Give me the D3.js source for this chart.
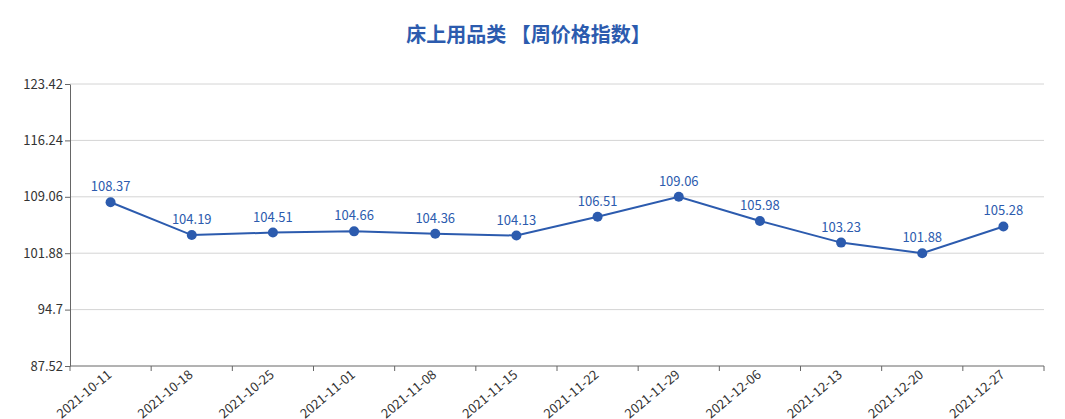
<!DOCTYPE html>
<html>
<head>
<meta charset="utf-8">
<script src="https://cdn.jsdelivr.net/npm/d3@7"></script>
<style>
  body { margin: 0; background: #fff; }
  text { font-family: "Noto Sans CJK SC", "Noto Sans", sans-serif; }
</style>
</head>
<body>
<div id="chart"></div>
<script>
// Daten
var title = "床上用品类 【周价格指数】";
var weeks = ["2021-10-11", "2021-10-18", "2021-10-25", "2021-11-01", "2021-11-08", "2021-11-15",
             "2021-11-22", "2021-11-29", "2021-12-06", "2021-12-13", "2021-12-20", "2021-12-27"];
var values = [108.37, 104.19, 104.51, 104.66, 104.36, 104.13, 106.51, 109.06, 105.98, 103.23, 101.88, 105.28];
var yTicks = [87.52, 94.7, 101.88, 109.06, 116.24, 123.42];

var width = 1065, height = 419;
var margin = {top: 84, right: 21, bottom: 53, left: 70};
var blue = "#2c5bae";

var svg = d3.select("#chart").append("svg")
    .attr("width", width).attr("height", height);

svg.append("text")
    .attr("x", width / 2 - 4).attr("y", 42)
    .attr("text-anchor", "middle")
    .attr("fill", blue)
    .style("font-size", "20px").style("font-weight", "bold")
    .text(title);

var x = d3.scaleBand().domain(weeks).range([margin.left, width - margin.right]);
var y = d3.scaleLinear().domain([yTicks[0], yTicks[yTicks.length - 1]])
    .range([height - margin.bottom, margin.top]);

// Gitterlinien
svg.append("g").selectAll("line").data(yTicks.slice(1)).enter().append("line")
    .attr("x1", margin.left).attr("x2", width - margin.right)
    .attr("y1", function(d){ return y(d); }).attr("y2", function(d){ return y(d); })
    .attr("stroke", "#d4d4d4").attr("stroke-width", 1);

// y-Achse
var yAxis = svg.append("g").attr("transform", "translate(" + margin.left + ",0)")
    .call(d3.axisLeft(y).tickValues(yTicks).tickSize(5).tickSizeOuter(0)
        .tickFormat(function(d){ return String(d); }));
yAxis.select(".domain").attr("stroke", "#666");
yAxis.selectAll(".tick line").attr("stroke", "#666");
yAxis.selectAll(".tick text").attr("fill", "#333").style("font-size", "13px").attr("x", -7);

// x-Achse mit Strichen an den Kategoriegrenzen
var xAxis = svg.append("g").attr("transform", "translate(0," + (height - margin.bottom) + ")");
xAxis.append("line")
    .attr("x1", margin.left).attr("x2", width - margin.right)
    .attr("stroke", "#666");
var bounds = weeks.map(function(d){ return x(d); }).concat([x(weeks[weeks.length - 1]) + x.bandwidth()]);
xAxis.selectAll(".bt").data(bounds).enter().append("line")
    .attr("x1", function(d){ return d; }).attr("x2", function(d){ return d; })
    .attr("y1", 0).attr("y2", 5).attr("stroke", "#666");
xAxis.selectAll(".lbl").data(weeks).enter().append("text")
    .attr("text-anchor", "end")
    .attr("fill", "#333").style("font-size", "13px")
    .attr("transform", function(d){
        return "translate(" + (x(d) + x.bandwidth() / 2 + 2) + ",10) rotate(-40)";
    })
    .text(function(d){ return d; });

// Linie
var line = d3.line()
    .x(function(d, i){ return x(weeks[i]) + x.bandwidth() / 2; })
    .y(function(d){ return y(d); });
svg.append("path").datum(values)
    .attr("d", line).attr("fill", "none")
    .attr("stroke", blue).attr("stroke-width", 2);

svg.append("g").selectAll("circle").data(values).enter().append("circle")
    .attr("cx", function(d, i){ return x(weeks[i]) + x.bandwidth() / 2; })
    .attr("cy", function(d){ return y(d); })
    .attr("r", 5).attr("fill", blue);

svg.append("g").selectAll("text").data(values).enter().append("text")
    .attr("x", function(d, i){ return x(weeks[i]) + x.bandwidth() / 2; })
    .attr("y", function(d){ return y(d) - 11; })
    .attr("text-anchor", "middle")
    .attr("fill", blue).style("font-size", "13px")
    .text(function(d){ return d.toFixed(2); });
</script>
</body>
</html>
